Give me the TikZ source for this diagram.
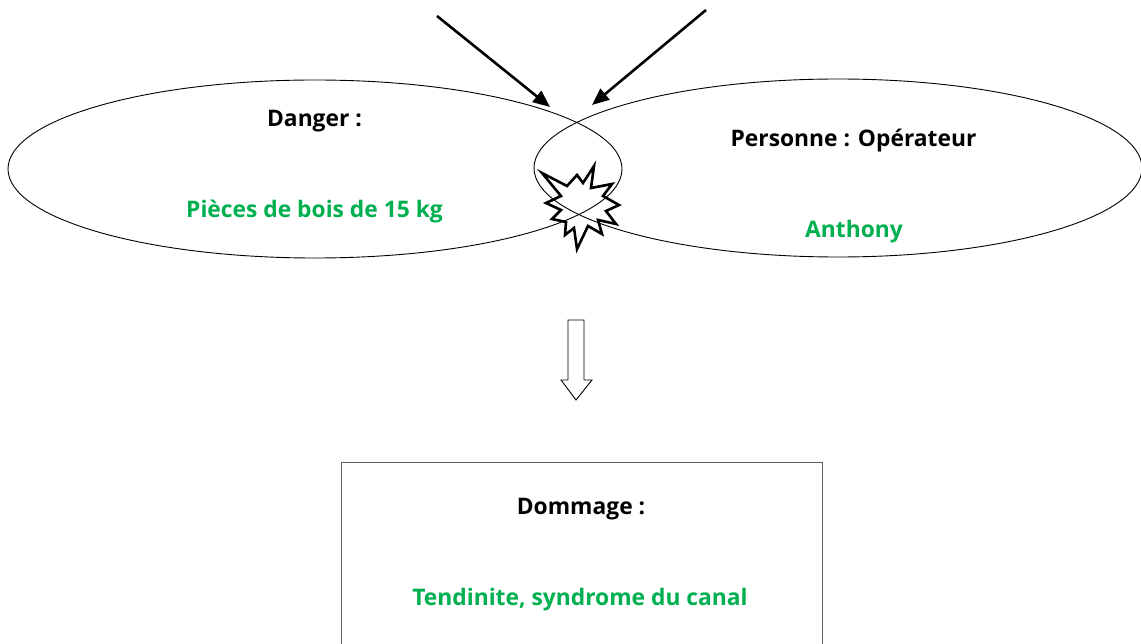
\documentclass[tikz,border=0pt]{standalone}
\usepackage{fontspec}
\setmainfont{Open Sans}
\usetikzlibrary{arrows.meta,shapes.geometric}
\definecolor{okgreen}{HTML}{00B050}
\definecolor{boxgray}{RGB}{96,96,96}
\begin{document}
\begin{tikzpicture}[x=1pt,y=-1pt,
  lbl/.style={font=\fontsize{22.8}{27}\selectfont\bfseries, anchor=base, inner sep=0pt},
  grn/.style={lbl, text=okgreen},
  oval/.style={draw=black, line width=0.9pt, ellipse, inner sep=0pt},
  hit/.style={draw=black, line width=2.6pt, -{Triangle[length=17pt,width=14pt]}},
  boom/.style={draw=black, line width=2.6pt, line join=miter, miter limit=10}
]
\clip (0,0) rectangle (1141,644);
\fill[white] (0,0) rectangle (1141,644);

% ellipses
\node[oval, minimum width=614pt, minimum height=178pt] (danger) at (315,169) {};
\node[oval, minimum width=608pt, minimum height=178pt] (personne) at (838,168) {};

% explosion
\draw[boom] (542,173) -- (567,186) -- (577,175) -- (583,183)
  -- (594,166) -- (591,188) -- (612,184) -- (603,196)
  -- (619,205) -- (606,211) -- (616,224) -- (598,220)
  -- (602,234) -- (588,226) -- (577,249) -- (574,228)
  -- (565,235) -- (566,222) -- (552,219) -- (561,210)
  -- (546,203) -- (561,196) -- cycle;

% arrows
\coordinate (a1s) at (437,16);
\coordinate (a1e) at (550,107);
\coordinate (a2s) at (706,10);
\coordinate (a2e) at (592,105);
\draw[hit] (a1s) -- (a1e);
\draw[hit] (a2s) -- (a2e);

% labels
\node[lbl] (tdanger) at (314.5,127) {Danger :};
\node[grn] (tpieces) at (314.5,218) {Pièces de bois de 15 kg};
\node[lbl] (tpers) at (853.5,147) {Personne : Opérateur};
\node[grn] (tanth) at (854,238) {Anthony};

% block arrow
\draw[line width=0.9pt, fill=white] (568,320) -- (584,320) -- (584,380) -- (592,380)
  -- (576,400) -- (561,380) -- (568,380) -- cycle;

% damage box
\node[draw=boxgray, line width=1pt, minimum width=481pt, minimum height=200pt, inner sep=0pt] (dommage) at (581.5,562) {};
\node[lbl] (tdom) at (581,514) {Dommage :};
\node[grn] (ttend) at (580,605) {Tendinite, syndrome du canal};
\end{tikzpicture}
\end{document}
